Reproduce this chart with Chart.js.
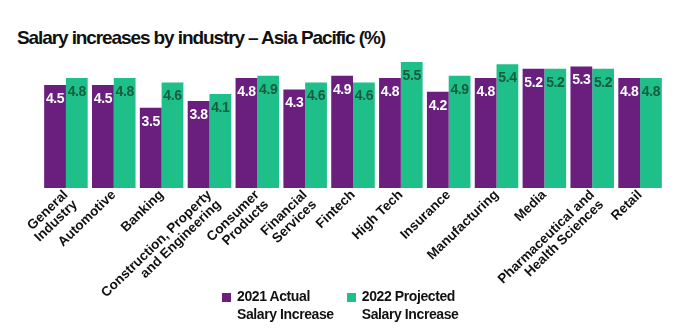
<!DOCTYPE html>
<html>
<head>
<meta charset="utf-8">
<script src="https://cdn.jsdelivr.net/npm/chart.js@4.4.1/dist/chart.umd.min.js"></script>
<style>
  html, body { margin: 0; padding: 0; background: #fff; }
  #wrap { position: relative; width: 688px; height: 333px; overflow: hidden; }
  #titulo {
    position: absolute; left: 17px; top: 27px; white-space: nowrap;
    font-family: "Liberation Sans", Arial, sans-serif; font-weight: bold;
    font-size: 19px; color: #111; letter-spacing: -1.1px;
  }
  canvas { position: absolute; left: 0; top: 0; }
  #leyenda {
    position: absolute; top: 288px; left: 222px; display: flex;
    font-family: "Liberation Sans", Arial, sans-serif; font-weight: bold;
    font-size: 14px; line-height: 17.5px; color: #111; letter-spacing: -0.4px;
  }
  .item { display: flex; align-items: flex-start; margin-right: 13px; }
  .caja { width: 9px; height: 9px; margin-top: 5px; margin-right: 6px; flex: none; }
</style>
</head>
<body>
<div id="wrap">
  <div id="titulo">Salary increases by industry – Asia Pacific (%)</div>
  <canvas id="grafica" width="688" height="333"></canvas>
  <div id="leyenda"></div>
</div>
<script>
// Datos
const industrias = [
  ["General", "Industry"], "Automotive", "Banking",
  ["Construction, Property", "and Engineering"], ["Consumer", "Products"],
  ["Financial", "Services"], "Fintech", "High Tech", "Insurance",
  "Manufacturing", "Media", ["Pharmaceutical and", "Health Sciences"], "Retail"
];
const actual2021 = [4.5, 4.5, 3.5, 3.8, 4.8, 4.3, 4.9, 4.8, 4.2, 4.8, 5.2, 5.3, 4.8];
const proyectado2022 = [4.8, 4.8, 4.6, 4.1, 4.9, 4.6, 4.6, 5.5, 4.9, 5.4, 5.2, 5.2, 4.8];
const nombreSeries = [["2021 Actual", "Salary Increase"], ["2022 Projected", "Salary Increase"]];

const morado = "#6a1e7e";
const verde = "#1fbf8a";
const fuente = "'Liberation Sans', Arial, sans-serif";

// Etiquetas de valor dentro de las barras
const etiquetasValor = {
  id: "etiquetasValor",
  afterDatasetsDraw(chart) {
    const ctx = chart.ctx;
    ctx.save();
    ctx.font = "bold 14px " + fuente;
    ctx.letterSpacing = "-0.4px";
    ctx.textAlign = "center";
    ctx.textBaseline = "middle";
    chart.data.datasets.forEach((ds, i) => {
      const meta = chart.getDatasetMeta(i);
      ctx.fillStyle = i === 0 ? "#ffffff" : "#165c3e";
      meta.data.forEach((bar, j) => {
        ctx.fillText(ds.data[j].toFixed(1), bar.x, bar.y + 14);
      });
    });
    ctx.restore();
  }
};

const grafica = new Chart(document.getElementById("grafica"), {
  type: "bar",
  data: {
    labels: industrias,
    datasets: [
      { label: nombreSeries[0], data: actual2021, backgroundColor: morado },
      { label: nombreSeries[1], data: proyectado2022, backgroundColor: verde }
    ]
  },
  options: {
    responsive: false,
    animation: false,
    devicePixelRatio: 1,
    layout: { padding: { top: 62, left: 42, right: 24, bottom: 31 } },
    datasets: { bar: { categoryPercentage: 0.91, barPercentage: 1 } },
    scales: {
      y: { display: false, min: 0, max: 5.5 },
      x: {
        grid: { display: false, drawTicks: false },
        border: { display: false },
        afterFit(escala) { escala.height = 114; },
        ticks: {
          color: "#111",
          font: { family: fuente, size: 13.5, weight: "bold", lineHeight: 1.0 },
          minRotation: 44,
          maxRotation: 44,
          autoSkip: false,
          padding: 0
        }
      }
    },
    plugins: {
      tooltip: { enabled: false },
      legend: { display: false }
    }
  },
  plugins: [etiquetasValor]
});

// Leyenda en HTML con los colores de cada serie
const leyenda = document.getElementById("leyenda");
grafica.data.datasets.forEach(ds => {
  leyenda.innerHTML += `<div class="item"><div class="caja" style="background:${ds.backgroundColor}"></div>` +
    `<div>${ds.label.join("<br>")}</div></div>`;
});
</script>
</body>
</html>
